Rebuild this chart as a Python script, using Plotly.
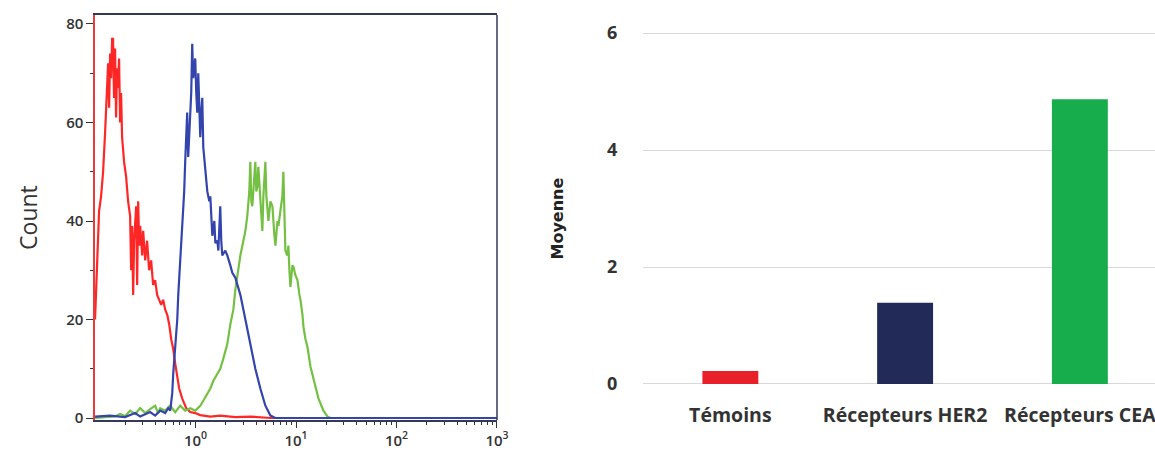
import plotly.graph_objects as go

# ---------------- Histogram data (log10 of fluorescence intensity, count) ----------------
red_log = [-1.000, -0.980, -0.960, -0.940, -0.920, -0.900, -0.880, -0.870, -0.860, -0.850,
           -0.840, -0.830, -0.821, -0.811, -0.801, -0.791, -0.781, -0.771, -0.761, -0.751,
           -0.741, -0.731, -0.711, -0.691, -0.671, -0.651, -0.641, -0.631, -0.621, -0.611,
           -0.591, -0.581, -0.571, -0.561, -0.551, -0.531, -0.521, -0.501, -0.482, -0.462,
           -0.442, -0.422, -0.402, -0.382, -0.362, -0.342, -0.322, -0.302, -0.282, -0.262,
           -0.242, -0.222, -0.202, -0.182, -0.163, -0.133, -0.093, -0.053, -0.003, 0.047,
           0.147, 0.246, 0.396, 0.545, 0.745, 1.044, 1.542, 2.041, 2.539, 3.000]
red_count = [20, 30, 42, 45, 50, 58, 66, 72, 63, 74,
             69, 77, 77, 65, 75, 61, 71, 67, 73, 60,
             66, 57, 52, 49, 44, 41, 30, 39, 25, 36,
             43, 27, 44, 35, 39, 33, 38, 32, 36, 30,
             32, 27, 28, 25, 24, 23, 24, 22, 21, 19,
             16, 14, 11, 8, 6, 4, 2, 1.2, 1, 0.6,
             0.3, 0.5, 0.2, 0.3, 0, 0, 0, 0, 0, 0]

green_log = [-1.000, -0.801, -0.751, -0.701, -0.651, -0.601, -0.551, -0.501, -0.452, -0.402,
             -0.372, -0.352, -0.302, -0.252, -0.202, -0.153, -0.103, -0.053, -0.003, 0.047,
             0.077, 0.117, 0.147, 0.176, 0.216, 0.246, 0.276, 0.316, 0.346, 0.376,
             0.396, 0.426, 0.446, 0.476, 0.496, 0.515, 0.535, 0.545, 0.555, 0.565,
             0.585, 0.595, 0.605, 0.615, 0.625, 0.645, 0.665, 0.675, 0.695, 0.705,
             0.725, 0.745, 0.765, 0.785, 0.795, 0.815, 0.825, 0.844, 0.864, 0.874,
             0.884, 0.894, 0.914, 0.924, 0.934, 0.944, 0.964, 0.974, 0.994, 1.014,
             1.034, 1.044, 1.064, 1.074, 1.094, 1.114, 1.144, 1.174, 1.194, 1.223,
             1.243, 1.273, 1.313, 1.343, 2.041, 3.000]
green_count = [0, 0.3, 0.8, 0.4, 1.5, 0.8, 2, 1, 1.8, 2.5,
               1, 2, 1.5, 2.5, 1.2, 2.5, 1.5, 2, 1.5, 2.5,
               3.5, 5, 6, 7.5, 9, 10, 12, 15, 19, 22,
               26, 30, 33, 36, 38, 41, 46, 52, 44, 43,
               48, 52, 46, 47, 51, 44, 38, 45, 52, 45,
               40, 44, 43, 37, 35, 40, 39, 42, 45, 50,
               40, 34, 33, 35, 30, 26.6, 31, 30.7, 29, 28,
               25, 24, 21, 18.5, 16, 14.4, 10.4, 8, 6.3, 4,
               3, 1.5, 0.3, 0, 0, 0]

blue_log = [-1.000, -0.850, -0.701, -0.601, -0.551, -0.452, -0.402, -0.352, -0.302, -0.272,
            -0.252, -0.232, -0.222, -0.202, -0.182, -0.172, -0.153, -0.133, -0.113, -0.103,
            -0.093, -0.083, -0.073, -0.063, -0.053, -0.043, -0.033, -0.023, -0.013, -0.003,
            0.007, 0.017, 0.027, 0.037, 0.047, 0.057, 0.067, 0.077, 0.097, 0.117,
            0.137, 0.147, 0.167, 0.187, 0.197, 0.217, 0.227, 0.246, 0.256, 0.266,
            0.296, 0.316, 0.346, 0.366, 0.396, 0.446, 0.496, 0.545, 0.595, 0.645,
            0.695, 0.745, 0.795, 1.044, 2.041, 3.000]
blue_count = [0.3, 0.5, 0.2, 1, 0.3, 1.2, 0.5, 1.5, 1, 2,
              1.5, 5, 9, 14, 20, 25, 32, 38, 46, 52,
              56, 62, 53, 58, 60, 66, 76, 69, 71, 73,
              66, 62, 70, 64, 57, 62, 65, 55, 50, 46,
              44, 45, 37, 40, 35.5, 36, 34, 43, 36, 33,
              34, 33, 31, 29.5, 28.5, 25, 20, 15, 10, 6,
              2.5, 0.5, 0, 0, 0, 0]

# ---------------- Bar chart data ----------------
bar_categories = ["Témoins", "Récepteurs HER2", "Récepteurs CEA"]
bar_values = [0.22, 1.39, 4.87]
bar_colors = ["#e8202a", "#222a57", "#17ad4d"]

# tick labels
x_tick_values = [1, 10, 100, 1000]
x_tick_text = ["10<sup>0</sup>", "10<sup>1</sup>", "10<sup>2</sup>", "10<sup>3</sup>"]
y_tick_values = [0, 20, 40, 60, 80]
y_minor_values = [10, 30, 50, 70]
bar_y_ticks = [0, 2, 4, 6]

x_minor_values = [m * 10 ** d for d in (-1, 0, 1, 2) for m in range(2, 10)]

fig = go.Figure()

fig.add_trace(go.Scatter(x=[10 ** v for v in red_log], y=red_count, mode="lines",
                         line=dict(color="#ff2626", width=2.2), xaxis="x", yaxis="y",
                         showlegend=False, name="Témoins"))
fig.add_trace(go.Scatter(x=[10 ** v for v in green_log], y=green_count, mode="lines",
                         line=dict(color="#74c043", width=2.2), xaxis="x", yaxis="y",
                         showlegend=False, name="CEA"))
fig.add_trace(go.Scatter(x=[10 ** v for v in blue_log], y=blue_count, mode="lines",
                         line=dict(color="#3444ad", width=2.2), xaxis="x", yaxis="y",
                         showlegend=False, name="HER2"))

fig.add_trace(go.Bar(x=bar_categories, y=bar_values, marker=dict(color=bar_colors, line=dict(width=0)),
                     xaxis="x2", yaxis="y2", showlegend=False))

tick_font = dict(family="Open Sans", size=15, color="#333333", weight=600)
cat_font = dict(family="Open Sans", size=19.5, color="#333333", weight="bold")
ytick2_font = dict(family="Open Sans", size=18, color="#333333", weight="bold")

fig.update_layout(
    width=1155, height=450,
    margin=dict(l=0, r=0, t=0, b=0),
    paper_bgcolor="white", plot_bgcolor="white",
    bargap=0.68,
    xaxis=dict(domain=[0.0823, 0.4303], type="log", range=[-1, 3],
               tickvals=x_tick_values, ticktext=x_tick_text,
               ticks="outside", ticklen=6, tickcolor="#333", tickwidth=1,
               showline=True, linecolor="#34385a", linewidth=1.5, mirror=True,
               showgrid=False, zeroline=False, tickfont=tick_font,
               minor=dict(tickvals=x_minor_values, ticks="outside", ticklen=3,
                          tickcolor="#333", showgrid=False),
               anchor="y", automargin=False),
    yaxis=dict(domain=[0.0667, 0.9664], range=[-0.4, 81.8],
               tickvals=y_tick_values, ticks="outside", ticklen=7, tickcolor="#333",
               showline=True, linecolor="#e83a3a", linewidth=1.5,
               showgrid=False, zeroline=False, tickfont=tick_font,
               minor=dict(tickvals=y_minor_values, ticks="outside", ticklen=3,
                          tickcolor="#333", showgrid=False),
               anchor="x", automargin=False),
    xaxis2=dict(domain=[0.5567, 1.0], range=[-0.5, 2.43], anchor="y2",
                showline=False, showgrid=False, zeroline=False,
                ticks="outside", ticklen=11, tickcolor="rgba(0,0,0,0)",
                tickfont=cat_font, automargin=False),
    yaxis2=dict(domain=[0.1402, 0.9331], range=[-0.05, 6.05], anchor="x2",
                tickvals=bar_y_ticks, showgrid=True, gridcolor="#d9d9d9", gridwidth=1,
                zeroline=False, showline=False,
                ticks="outside", ticklen=21, tickcolor="rgba(0,0,0,0)",
                tickfont=ytick2_font, automargin=False),
    shapes=[dict(type="line", xref="x domain", yref="y domain", x0=1, x1=1, y0=0, y1=1,
                 line=dict(color="#34385a", width=1.5))],
    annotations=[
        dict(text="Count", x=0.0242, y=0.5178, xref="paper", yref="paper",
             textangle=-90, showarrow=False, xanchor="center", yanchor="middle",
             font=dict(family="Open Sans", size=23, color="#333333")),
        dict(text="Moyenne", x=0.4831, y=0.5144, xref="paper", yref="paper",
             textangle=-90, showarrow=False, xanchor="center", yanchor="middle",
             font=dict(family="DejaVu Sans", size=16, color="#222222", weight="bold")),
    ],
)

fig.write_html("out.html", config={"displayModeBar": False},
               post_script="document.body.style.margin='0px';")
